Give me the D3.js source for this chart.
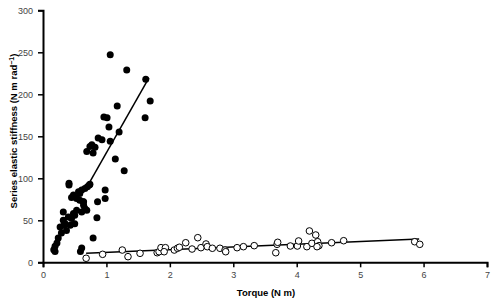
<!DOCTYPE html>
<meta charset="utf-8">
<script src="https://d3js.org/d3.v7.min.js"></script>
<style>
  body { margin: 0; background: #fff; }
  text { font-family: "Liberation Sans", Arial, sans-serif; }
</style>
<div id="my_dataviz"></div>
<script>
// Filled circles: torque (N m), stiffness (N m rad^-1)
var filledX = [1.06, 1.32, 1.62, 1.69, 1.17, 1.61, 0.96, 1.01, 1.04, 1.20, 0.87, 0.93, 1.06, 0.77, 0.82,
  0.74, 0.69, 0.79, 1.14, 1.28, 0.41, 0.74, 0.70, 0.61, 0.58, 0.98, 0.48, 0.53, 0.98, 0.86,
  0.64, 0.45, 0.56, 0.66, 0.73, 0.58, 0.63, 0.64, 0.69, 0.61, 0.53, 0.48, 0.32, 0.40, 0.32,
  0.35, 0.27, 0.43, 0.50, 0.29, 0.24, 0.22, 0.19, 0.17, 0.19, 0.85, 0.79, 0.61, 0.59, 0.33,
  0.37, 0.45, 0.50, 0.66, 0.41];
var filledY = [247, 229, 218, 192, 186, 172, 173, 172, 161, 155, 148, 146, 144, 140, 137,
  138, 132, 130, 123, 109, 94, 93, 90, 86, 82, 86, 80, 76, 76, 72,
  72, 77, 84, 88, 92, 74, 72, 68, 62, 60, 62, 58, 60, 54, 50,
  46, 42, 44, 46, 35, 29, 23, 19, 15, 13, 53, 29, 17, 13, 44,
  38, 52, 56, 64, 92];

// Open circles
var openX = [0.68, 0.94, 1.25, 1.34, 1.53, 1.80, 1.83, 1.86, 1.93, 1.91, 2.07, 2.12, 2.15, 2.25, 2.35,
  2.44, 2.49, 2.57, 2.59, 2.67, 2.79, 2.87, 2.88, 3.06, 3.16, 3.33, 3.67, 3.69, 3.70, 3.90,
  4.01, 4.03, 4.16, 4.20, 4.24, 4.30, 4.33, 4.35, 4.32, 4.55, 4.74, 5.86, 5.94];
var openY = [4.8, 9.5, 14.6, 6.7, 10.7, 11.4, 12.6, 17.4, 17.4, 12.6, 14.6, 16.7, 17.9, 23.3, 15.8,
  29.3, 17.4, 21.8, 18.6, 16.7, 16.7, 14.6, 12.6, 17.4, 18.6, 19.8, 11.4, 21.4, 23.8, 19.4,
  19.4, 25.4, 18.6, 37.3, 22.6, 32.5, 24.5, 19.8, 18.6, 23.3, 25.7, 24.5, 21.4];

// Fitted lines [x start, x end], y = slope*x + intercept
var filledFit = {x: [0.71, 1.67], slope: 133, intercept: -2.5};
var openFit = {x: [0.68, 5.93], slope: 3.24, intercept: 8.5};

var xTicks = [0, 1, 2, 3, 4, 5, 6, 7];
var yTicks = [0, 50, 100, 150, 200, 250, 300];

var W = 493, H = 303;
var svg = d3.select("#my_dataviz").append("svg")
  .attr("width", W).attr("height", H);

var x = d3.scaleLinear().domain([0, 7]).range([43, 487]);
var y = d3.scaleLinear().domain([0, 300]).range([262.3, 10.3]);

// Axes
var xAxis = svg.append("g")
  .attr("transform", "translate(0," + y(0) + ")")
  .call(d3.axisBottom(x).tickValues(xTicks).tickSize(5).tickPadding(4).tickFormat(d3.format("d")));
var yAxis = svg.append("g")
  .attr("transform", "translate(" + x(0) + ",0)")
  .call(d3.axisLeft(y).tickValues(yTicks).tickSize(5).tickPadding(5).tickFormat(d3.format("d")));

[xAxis, yAxis].forEach(function(a) {
  a.select(".domain").attr("stroke", "#000").attr("stroke-width", 2);
  a.selectAll(".tick line").attr("stroke", "#000").attr("stroke-width", 1.5);
  a.selectAll(".tick text").attr("fill", "#444").style("font-size", "9px")
    .style("font-family", "'Liberation Sans', Arial, sans-serif");
});

// Fit lines
function fitLine(f) {
  return f.x.map(function(v) { return [x(v), y(f.slope * v + f.intercept)]; });
}
svg.append("path").attr("d", d3.line()(fitLine(filledFit)))
  .attr("stroke", "#000").attr("stroke-width", 1.5).attr("fill", "none");
svg.append("path").attr("d", d3.line()(fitLine(openFit)))
  .attr("stroke", "#000").attr("stroke-width", 1.5).attr("fill", "none");

// Points
svg.append("g").selectAll("circle")
  .data(d3.range(filledX.length))
  .join("circle")
    .attr("cx", function(i) { return x(filledX[i]); })
    .attr("cy", function(i) { return y(filledY[i]); })
    .attr("r", 3.5)
    .attr("fill", "#000");

svg.append("g").selectAll("circle")
  .data(d3.range(openX.length))
  .join("circle")
    .attr("cx", function(i) { return x(openX[i]); })
    .attr("cy", function(i) { return y(openY[i]); })
    .attr("r", 3.3)
    .attr("fill", "#fff")
    .attr("stroke", "#000")
    .attr("stroke-width", 1);

// Axis titles
svg.append("text")
  .attr("x", 266).attr("y", 296)
  .attr("text-anchor", "middle")
  .style("font-size", "9.5px").style("font-weight", "bold")
  .text("Torque (N m)");

var yt = svg.append("text")
  .attr("transform", "translate(17,131) rotate(-90)")
  .attr("text-anchor", "middle")
  .style("font-size", "9.5px").style("font-weight", "bold");
yt.append("tspan").text("Series elastic stiffness (N m rad");
yt.append("tspan").attr("dy", -3).style("font-size", "7px").text("−1");
yt.append("tspan").attr("dy", 3).text(")");
</script>
